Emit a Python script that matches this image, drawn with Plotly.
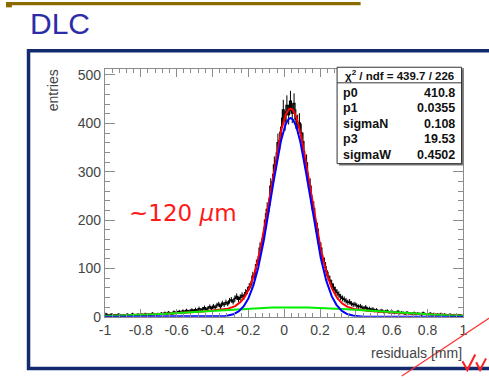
import numpy as np
import plotly.graph_objects as go

# ---------------- data ----------------
x_min, x_max, n_bins = -1.0, 1.0, 200
counts = [
    6, 4, 3, 5, 2, 4, 3, 5, 4, 3,
    4, 2, 5, 3, 4, 6, 3, 4, 5, 3,
    5, 4, 6, 3, 5, 4, 7, 5, 4, 6,
    5, 7, 6, 8, 5, 9, 7, 6, 10, 8,
    9, 11, 8, 12, 10, 13, 11, 12, 14, 12,
    15, 13, 17, 14, 16, 19, 15, 18, 21, 17,
    22, 19, 24, 26, 21, 28, 25, 30, 27, 33,
    35, 31, 38, 42, 36, 40, 44, 41, 50, 54,
    62, 66, 84, 88, 108, 115, 142, 150, 171, 200,
    222, 231, 270, 279, 314, 322, 360, 364, 392, 428,
    405, 437, 418, 446, 421, 441, 409, 398, 401, 380,
    362, 325, 318, 281, 270, 236, 224, 190, 181, 152,
    142, 118, 112, 95, 84, 76, 68, 61, 55, 50,
    46, 41, 38, 36, 33, 30, 31, 27, 25, 26,
    23, 21, 22, 19, 18, 20, 16, 17, 15, 16,
    13, 14, 11, 12, 13, 10, 11, 12, 9, 10,
    10, 8, 9, 11, 7, 9, 8, 6, 9, 7,
    7, 6, 8, 5, 7, 6, 4, 8, 6, 5,
    5, 7, 4, 6, 3, 5, 4, 6, 3, 5,
    4, 3, 5, 2, 4, 3, 2, 4, 3, 2,
]

# fit parameters (from the stats box)
p0, p1, sigmaN, p3, sigmaW = 410.8, 0.0355, 0.108, 19.53, 0.4502
stat_names = ["p0", "p1", "sigmaN", "p3", "sigmaW"]
stat_values = ["410.8", "0.0355", "0.108", "19.53", "0.4502"]
chi2_text = "χ<sup>2</sup> / ndf = 439.7 / 226"

x_tickvals = [-1, -0.8, -0.6, -0.4, -0.2, 0, 0.2, 0.4, 0.6, 0.8, 1]
x_ticktext = ["-1", "-0.8", "-0.6", "-0.4", "-0.2", "0", "0.2", "0.4", "0.6", "0.8", "1"]
y_tickvals = [0, 100, 200, 300, 400, 500]
y_ticktext = ["0", "100", "200", "300", "400", "500"]

# ---------------- helpers ----------------
W, H = 489, 380
def px(x):
    return x / W
def py(y):
    return 1 - y / H

edges = np.linspace(x_min, x_max, n_bins + 1)
centers = 0.5 * (edges[:-1] + edges[1:])
counts_arr = np.array(counts, dtype=float)

xf = np.linspace(x_min, x_max, 800)
narrow = p0 * np.exp(-0.5 * ((xf - p1) / sigmaN) ** 2)
wide = p3 * np.exp(-0.5 * ((xf - p1) / sigmaW) ** 2)
total = narrow + wide

fig = go.Figure()
fig.add_trace(go.Scatter(
    x=centers, y=counts_arr, mode="lines", line_shape="hvh",
    line=dict(color="black", width=1.3),
    error_y=dict(type="data", array=np.sqrt(counts_arr), color="black", thickness=1, width=0),
    hoverinfo="skip", showlegend=False))
fig.add_trace(go.Scatter(x=xf, y=total, mode="lines", line=dict(color="#ff0000", width=2),
                         hoverinfo="skip", showlegend=False))
fig.add_trace(go.Scatter(x=xf, y=wide, mode="lines", line=dict(color="#00ee00", width=2),
                         hoverinfo="skip", showlegend=False))
fig.add_trace(go.Scatter(x=xf, y=narrow, mode="lines", line=dict(color="#0000ff", width=2),
                         hoverinfo="skip", showlegend=False))

axis_color = "#8c8c8c"
label_font = dict(family="Liberation Sans, Arial, sans-serif", size=14, color="#444444")

fig.update_layout(
    width=W, height=H,
    margin=dict(l=0, r=0, t=0, b=0),
    paper_bgcolor="white", plot_bgcolor="white",
    showlegend=False,
    xaxis=dict(
        domain=[px(101), px(467)], range=[x_min, x_max],
        tickmode="array", tickvals=x_tickvals, ticktext=x_ticktext,
        ticks="inside", ticklen=8, tickcolor=axis_color, tickwidth=1,
        minor=dict(ticks="inside", ticklen=4, dtick=0.04, tickcolor=axis_color, showgrid=False),
        showline=True, linecolor=axis_color, linewidth=1, mirror="ticks",
        showgrid=False, zeroline=False, tickfont=label_font,
    ),
    yaxis=dict(
        domain=[py(323.3), py(69)], range=[0, 512],
        tickmode="array", tickvals=y_tickvals, ticktext=y_ticktext,
        ticks="inside", ticklen=10, tickcolor=axis_color, tickwidth=1,
        minor=dict(ticks="inside", ticklen=5, dtick=20, tickcolor=axis_color, showgrid=False),
        showline=True, linecolor=axis_color, linewidth=1, mirror="ticks",
        showgrid=False, zeroline=False, tickfont=label_font,
    ),
)

shapes = []
# gold bar at top
shapes.append(dict(type="rect", xref="paper", yref="paper", x0=px(0), x1=px(362), y0=py(0), y1=py(3.3),
                   fillcolor="#8b6a00", line=dict(width=0), layer="above"))
shapes.append(dict(type="rect", xref="paper", yref="paper", x0=px(0), x1=px(6), y0=py(0), y1=py(5.5),
                   fillcolor="#8b6a00", line=dict(width=0), layer="above"))
# navy frame
shapes.append(dict(type="rect", xref="paper", yref="paper", x0=px(23), x1=px(496), y0=py(50), y1=py(376.5),
                   line=dict(color="#132a6e", width=3.5), fillcolor="rgba(0,0,0,0)", layer="above"))
# stats box shadow + box
shapes.append(dict(type="rect", xref="paper", yref="paper", x0=px(340), x1=px(467), y0=py(69), y1=py(168),
                   fillcolor="#777777", line=dict(width=0), layer="above"))
shapes.append(dict(type="rect", xref="paper", yref="paper", x0=px(338), x1=px(465), y0=py(67), y1=py(166),
                   fillcolor="white", line=dict(color="#333333", width=1), layer="above"))
shapes.append(dict(type="line", xref="paper", yref="paper", x0=px(338), x1=px(465), y0=py(83), y1=py(83),
                   line=dict(color="#333333", width=1), layer="above"))
# red annotation strokes (bottom right)
shapes.append(dict(type="line", xref="paper", yref="paper", x0=px(404), y0=py(384), x1=px(495), y1=py(323.5),
                   line=dict(color="#ff3030", width=1.2), layer="above"))
shapes.append(dict(type="path", xref="paper", yref="paper",
                   path=f"M {px(466)} {py(369)} L {px(471)} {py(378)} L {px(479)} {py(362)}",
                   line=dict(color="#ff2020", width=2), layer="above"))
shapes.append(dict(type="path", xref="paper", yref="paper",
                   path=f"M {px(480)} {py(370)} L {px(484)} {py(378)} L {px(490)} {py(366)}",
                   line=dict(color="#ff2020", width=2), layer="above"))
fig.update_layout(shapes=shapes)

ann = []
ann.append(dict(text="DLC", xref="paper", yref="paper", x=px(22), y=py(22), xanchor="left", yanchor="middle",
                showarrow=False, font=dict(family="Liberation Sans, Arial", size=30, color="#2b2da8")))
ann.append(dict(text="entries", xref="paper", yref="paper", x=px(48), y=py(67), xanchor="center", yanchor="top",
                textangle=-90, showarrow=False, font=label_font))
ann.append(dict(text="residuals [mm]", xref="paper", yref="paper", x=px(467.5), y=py(360), xanchor="right",
                yanchor="middle", showarrow=False, font=label_font))
ann.append(dict(text="~120 <i>μ</i>m", xref="paper", yref="paper", x=px(124), y=py(217), xanchor="left",
                yanchor="middle", showarrow=False,
                font=dict(family="DejaVu Sans, sans-serif", size=23, color="#ff1a1a")))
ann.append(dict(text="<b>" + chi2_text + "</b>", xref="paper", yref="paper", x=px(401.5), y=py(75),
                xanchor="center", yanchor="middle", showarrow=False,
                font=dict(family="Liberation Sans, Arial", size=11.5, color="#111111")))
for i, (nm, val) in enumerate(zip(stat_names, stat_values)):
    yy = 93 + 16 * i
    ann.append(dict(text="<b>" + nm + "</b>", xref="paper", yref="paper", x=px(342), y=py(yy), xanchor="left",
                    yanchor="middle", showarrow=False, font=dict(family="Liberation Sans, Arial", size=12.5, color="#111111")))
    ann.append(dict(text="<b>" + val + "</b>", xref="paper", yref="paper", x=px(460), y=py(yy), xanchor="right",
                    yanchor="middle", showarrow=False, font=dict(family="Liberation Sans, Arial", size=12.5, color="#111111")))
fig.update_layout(annotations=ann)

fig.write_html("out.html")
